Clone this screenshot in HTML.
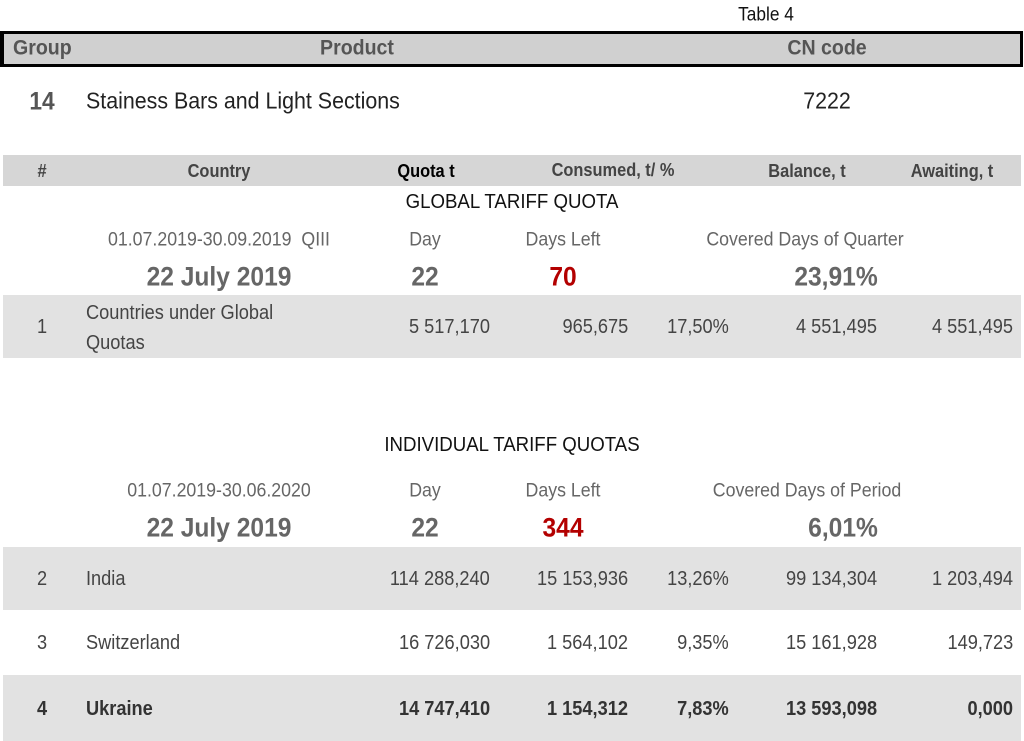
<!DOCTYPE html>
<html><head><meta charset="utf-8"><style>
html,body{margin:0;padding:0;background:#fff;width:1024px;height:741px;overflow:hidden;position:relative;font-family:"Liberation Sans",sans-serif}
.b{position:absolute}
.t{position:absolute;white-space:nowrap;line-height:1}
.l{transform:translateY(-50%) scaleX(.91);transform-origin:left center}
.r{transform:translateY(-50%) scaleX(.91);transform-origin:right center}
.c{transform:translate(-50%,-50%) scaleX(.91);transform-origin:center center}
.h{font-size:21.5px;font-weight:bold;color:#555}
.ch{font-size:18px;font-weight:bold;color:#444}
.d{font-size:19.5px;color:#666}
.g{font-size:27px;font-weight:bold;color:#666}
.n{font-size:20px;color:#444}
.nb{font-size:20px;color:#333;font-weight:bold}
.red{color:#b30000}
</style></head><body>
<div class="b" style="left:0;top:31px;width:1016px;height:30px;background:#d0d0d0;border:3px solid #000;border-left-width:4px"></div>
<div class="b" style="left:3px;top:155px;width:1018px;height:31px;background:#d6d6d6"></div>
<div class="b" style="left:3px;top:295px;width:1018px;height:63px;background:#e2e2e2"></div>
<div class="b" style="left:3px;top:547px;width:1018px;height:63px;background:#e2e2e2"></div>
<div class="b" style="left:3px;top:675px;width:1018px;height:66px;background:#e2e2e2"></div>

<div class="t c" style="left:766px;top:15px;font-size:19px;color:#111">Table 4</div>
<div class="t l h" style="left:13px;top:48px">Group</div>
<div class="t c h" style="left:357px;top:48px">Product</div>
<div class="t c h" style="left:827px;top:48px">CN code</div>

<div class="t c" style="left:42px;top:102px;font-size:25px;font-weight:bold;color:#555">14</div>
<div class="t l" style="left:86px;top:101px;font-size:23.5px;color:#222">Stainess Bars and Light Sections</div>
<div class="t c" style="left:827px;top:101px;font-size:23.5px;color:#222">7222</div>

<div class="t c ch" style="left:42px;top:171px">#</div>
<div class="t c ch" style="left:219px;top:171px">Country</div>
<div class="t c ch" style="left:426px;top:171px;color:#000">Quota t</div>
<div class="t c ch" style="left:613px;top:170px">Consumed, t/ %</div>
<div class="t c ch" style="left:807px;top:171px">Balance, t</div>
<div class="t c ch" style="left:952px;top:171px">Awaiting, t</div>

<div class="t c" style="left:512px;top:202px;font-size:20.5px;color:#111">GLOBAL TARIFF QUOTA</div>
<div class="t c d" style="left:219px;top:240px">01.07.2019-30.09.2019&nbsp; QIII</div>
<div class="t c d" style="left:425px;top:240px">Day</div>
<div class="t c d" style="left:563px;top:240px">Days Left</div>
<div class="t c d" style="left:805px;top:240px">Covered Days of Quarter</div>
<div class="t c g" style="left:219px;top:277px">22 July 2019</div>
<div class="t c g" style="left:425px;top:277px">22</div>
<div class="t c g red" style="left:563px;top:277px">70</div>
<div class="t c g" style="left:836px;top:277px">23,91%</div>

<div class="t c n" style="left:42px;top:327px">1</div>
<div class="t l n" style="left:86px;top:313px">Countries under Global</div>
<div class="t l n" style="left:86px;top:343px">Quotas</div>
<div class="t r n" style="right:534px;top:327px">5 517,170</div>
<div class="t r n" style="right:396px;top:327px">965,675</div>
<div class="t r n" style="right:295px;top:327px">17,50%</div>
<div class="t r n" style="right:147px;top:327px">4 551,495</div>
<div class="t r n" style="right:11px;top:327px">4 551,495</div>

<div class="t c" style="left:512px;top:445px;font-size:20.5px;color:#111">INDIVIDUAL TARIFF QUOTAS</div>
<div class="t c d" style="left:219px;top:491px">01.07.2019-30.06.2020</div>
<div class="t c d" style="left:425px;top:491px">Day</div>
<div class="t c d" style="left:563px;top:491px">Days Left</div>
<div class="t c d" style="left:807px;top:491px">Covered Days of Period</div>
<div class="t c g" style="left:219px;top:528px">22 July 2019</div>
<div class="t c g" style="left:425px;top:528px">22</div>
<div class="t c g red" style="left:563px;top:528px">344</div>
<div class="t c g" style="left:843px;top:528px">6,01%</div>

<div class="t c n" style="left:42px;top:579px">2</div>
<div class="t l n" style="left:86px;top:579px">India</div>
<div class="t r n" style="right:534px;top:579px">114 288,240</div>
<div class="t r n" style="right:396px;top:579px">15 153,936</div>
<div class="t r n" style="right:295px;top:579px">13,26%</div>
<div class="t r n" style="right:147px;top:579px">99 134,304</div>
<div class="t r n" style="right:11px;top:579px">1 203,494</div>

<div class="t c n" style="left:42px;top:643px">3</div>
<div class="t l n" style="left:86px;top:643px">Switzerland</div>
<div class="t r n" style="right:534px;top:643px">16 726,030</div>
<div class="t r n" style="right:396px;top:643px">1 564,102</div>
<div class="t r n" style="right:295px;top:643px">9,35%</div>
<div class="t r n" style="right:147px;top:643px">15 161,928</div>
<div class="t r n" style="right:11px;top:643px">149,723</div>

<div class="t c nb" style="left:42px;top:709px">4</div>
<div class="t l nb" style="left:86px;top:709px">Ukraine</div>
<div class="t r nb" style="right:534px;top:709px">14 747,410</div>
<div class="t r nb" style="right:396px;top:709px">1 154,312</div>
<div class="t r nb" style="right:295px;top:709px">7,83%</div>
<div class="t r nb" style="right:147px;top:709px">13 593,098</div>
<div class="t r nb" style="right:11px;top:709px">0,000</div>
</body></html>
